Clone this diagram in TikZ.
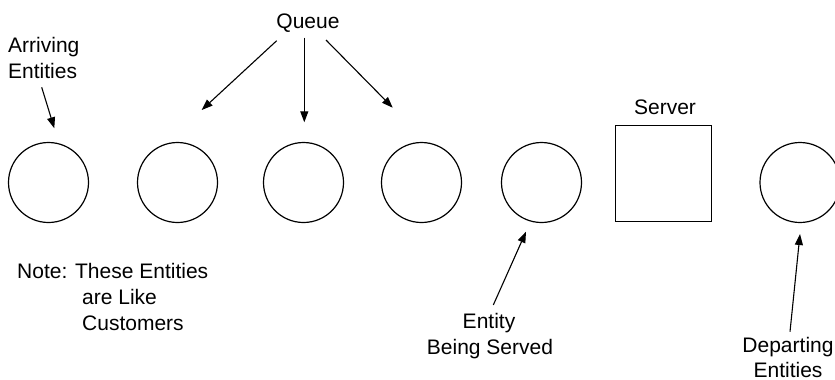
\documentclass[tikz,border=0pt]{standalone}
\usepackage{fontspec}
\setmainfont{Liberation Sans}
\usetikzlibrary{arrows.meta}
\begin{document}
\begin{tikzpicture}[x=1pt,y=-1pt,
  ent/.style={draw, circle, minimum size=80pt, inner sep=0pt, line width=1.2pt},
  srvbox/.style={draw, minimum width=96pt, minimum height=96pt, inner sep=0pt, line width=1.2pt},
  lbl/.style={font=\fontsize{21}{26}\selectfont, inner sep=0pt},
  arr/.style={-{Triangle[length=11pt,width=8pt]}, line width=1.1pt}]
\useasboundingbox (0,0) rectangle (835,380);
% entities
\node[ent] (c1) at (48.5,182.5) {};
\node[ent] (c2) at (177.5,182.5) {};
\node[ent] (c3) at (303.5,182.5) {};
\node[ent] (c4) at (421.5,182.5) {};
\node[ent] (c5) at (541.5,182.5) {};
\node[ent] (c6) at (800,182.5) {};
\node[srvbox] (srv) at (663.3,173.5) {};
% labels
\node[lbl, anchor=base] (q) at (308,28) {Queue};
\node[lbl, anchor=base west] (a1) at (8,52.7) {Arriving};
\node[lbl, anchor=base west] (a2) at (8,78.3) {Entities};
\node[lbl, anchor=base] (s) at (665,114.3) {Server};
\node[lbl, anchor=base] (e1) at (489,328.3) {Entity};
\node[lbl, anchor=base] (e2) at (490,354) {Being Served};
\node[lbl, anchor=base] (d1) at (788,352.5) {Departing};
\node[lbl, anchor=base] (d2) at (788,377) {Entities};
\node[lbl, anchor=base west] (n1) at (17,278.3) {Note: These Entities};
\node[lbl, anchor=base west] (n2) at (82,304) {are Like};
\node[lbl, anchor=base west] (n3) at (82,330.7) {Customers};
% arrow end points
\coordinate (aas) at (41.7,87.3);
\coordinate (aae) at (54.3,128.3);
\coordinate (q1s) at (276.7,40.7);
\coordinate (q1e) at (201.7,110);
\coordinate (q2s) at (304.3,37.7);
\coordinate (q2e) at (304.3,122.3);
\coordinate (q3s) at (326,40);
\coordinate (q3e) at (392.7,107.7);
\coordinate (es) at (493.3,305);
\coordinate (ee) at (526,231.7);
\coordinate (ds) at (790,331.7);
\coordinate (de) at (800,234);
\draw[arr] (aas) -- (aae);
\draw[arr] (q1s) -- (q1e);
\draw[arr] (q2s) -- (q2e);
\draw[arr] (q3s) -- (q3e);
\draw[arr] (es) -- (ee);
\draw[arr] (ds) -- (de);
\end{tikzpicture}
\end{document}
